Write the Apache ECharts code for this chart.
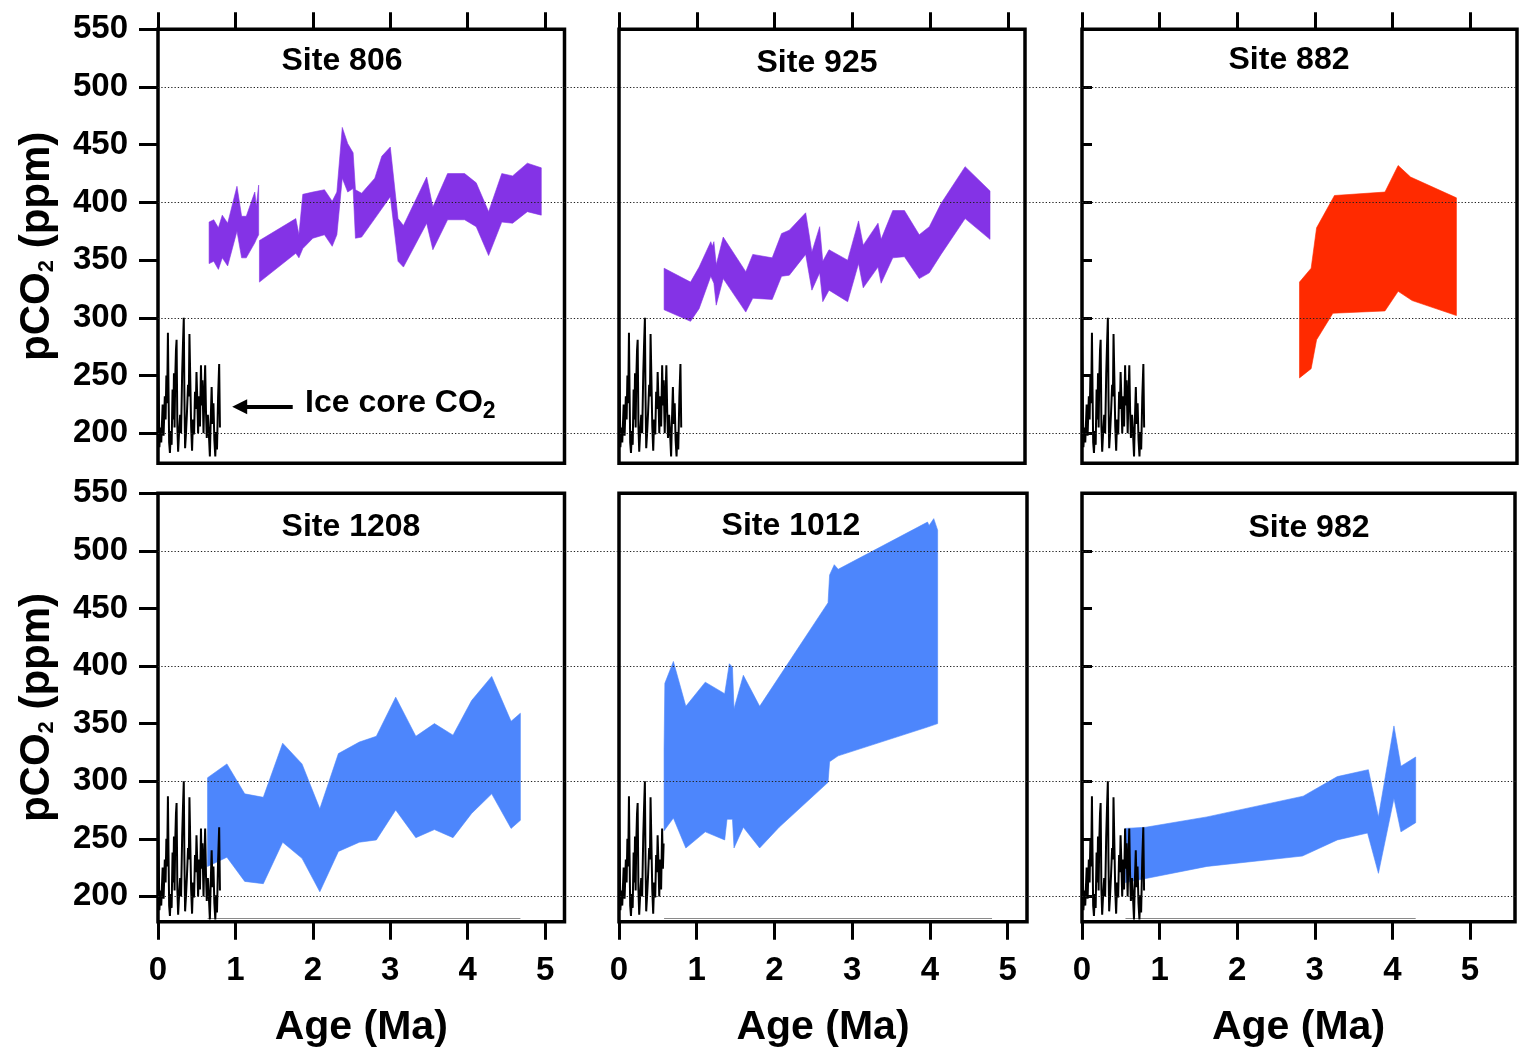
<!DOCTYPE html>
<html>
<head>
<meta charset="utf-8">
<script src="https://cdn.jsdelivr.net/npm/echarts@6/dist/echarts.min.js"></script>
<style>
html,body{margin:0;padding:0;background:#fff;}
#c{width:1529px;height:1055px;}
</style>
</head>
<body>
<div id="c"></div>
<script>
// ---------------- DATA ----------------
const ageTicks = [0, 1, 2, 3, 4, 5];
const ppmTicks = [200, 250, 300, 350, 400, 450, 500, 550];
const ppmGridLines = [200, 300, 400, 500];
const siteNames = ['Site 806', 'Site 925', 'Site 882', 'Site 1208', 'Site 1012', 'Site 982'];

// Ice core CO2 [age Ma, ppm]
const iceCoreCO2 = [[0.000,278],[0.008,240],[0.018,188],[0.030,205],[0.042,192],[0.060,225],[0.072,198],[0.088,232],[0.098,212],[0.108,250],[0.118,226],[0.128,287],[0.136,236],[0.144,192],[0.154,183],[0.166,202],[0.176,190],[0.188,238],[0.198,212],[0.206,252],[0.214,205],[0.222,246],[0.232,272],[0.240,281],[0.250,206],[0.260,184],[0.272,201],[0.286,216],[0.298,200],[0.312,252],[0.322,276],[0.333,300],[0.341,232],[0.350,187],[0.362,201],[0.374,218],[0.388,242],[0.398,232],[0.406,286],[0.416,250],[0.428,206],[0.440,185],[0.452,212],[0.466,199],[0.478,236],[0.488,221],[0.497,253],[0.508,228],[0.518,200],[0.530,232],[0.542,206],[0.555,259],[0.565,224],[0.574,246],[0.588,200],[0.598,232],[0.609,259],[0.620,218],[0.630,196],[0.644,216],[0.658,198],[0.670,180],[0.681,212],[0.693,240],[0.704,208],[0.716,226],[0.728,194],[0.740,180],[0.751,201],[0.762,186],[0.776,231],[0.790,260],[0.800,205]];
const iceCoreCutSite1012 = 0.58;

// Site 806 (two pieces)
const site806UpperA = [[0.66,383],[0.72,385],[0.78,378],[0.83,389],[0.90,382],[1.02,414],[1.08,388],[1.14,388],[1.25,409],[1.27,397],[1.30,415]];
const site806LowerA = [[0.66,347],[0.72,349],[0.78,342],[0.83,352],[0.90,345],[1.02,375],[1.08,352],[1.14,352],[1.25,365],[1.27,368],[1.30,372]];
const site806UpperB = [[1.31,367],[1.78,386],[1.82,372],[1.87,407],[2.00,409],[2.15,411],[2.25,401],[2.31,409],[2.38,465],[2.45,451],[2.52,443],[2.55,411],[2.63,408],[2.80,421],[2.89,440],[3.00,448],[3.10,386],[3.17,380],[3.47,422],[3.55,396],[3.74,425],[3.96,425],[4.11,417],[4.27,392],[4.44,425],[4.58,423],[4.77,434],[4.95,430]];
const site806LowerB = [[1.31,331],[1.78,356],[1.82,352],[1.87,360],[2.00,369],[2.15,372],[2.25,362],[2.31,372],[2.38,421],[2.45,409],[2.52,412],[2.55,369],[2.63,370],[2.80,386],[3.00,405],[3.10,349],[3.17,344],[3.47,382],[3.55,359],[3.74,385],[3.96,385],[4.11,379],[4.27,354],[4.44,383],[4.58,382],[4.77,392],[4.95,389]];

// Site 925
const site925Upper = [[0.58,343],[0.92,331],[1.03,344],[1.18,366],[1.20,362],[1.22,366],[1.25,346],[1.34,370],[1.63,340],[1.72,355],[1.97,352],[2.09,373],[2.19,376],[2.40,391],[2.48,357],[2.58,379],[2.62,349],[2.70,359],[2.94,350],[3.08,384],[3.14,363],[3.33,382],[3.37,368],[3.52,393],[3.67,393],[3.86,372],[3.99,379],[4.14,399],[4.45,431],[4.77,410]];
const site925Lower = [[0.58,307],[0.92,297],[1.03,308],[1.18,336],[1.22,330],[1.25,311],[1.34,334],[1.63,305],[1.72,317],[1.97,316],[2.09,336],[2.19,337],[2.40,355],[2.48,324],[2.58,339],[2.62,314],[2.70,324],[2.94,314],[3.08,347],[3.14,326],[3.33,344],[3.37,330],[3.52,352],[3.67,353],[3.86,334],[3.99,339],[4.14,355],[4.45,386],[4.77,368]];

// Site 882
const site882Upper = [[2.80,331],[2.95,343],[3.02,378],[3.25,406],[3.90,409],[4.07,432],[4.23,422],[4.82,404]];
const site882Lower = [[2.80,248],[2.95,256],[3.02,281],[3.23,304],[3.90,306],[4.07,323],[4.25,315],[4.82,302]];

// Site 1208
const site1208Upper = [[0.64,303],[0.89,315],[1.12,289],[1.36,286],[1.61,333],[1.86,315],[2.09,276],[2.33,324],[2.60,334],[2.82,339],[3.07,373],[3.33,339],[3.57,350],[3.81,340],[4.05,370],[4.31,391],[4.56,352],[4.68,359]];
const site1208Lower = [[0.64,226],[0.89,234],[1.12,213],[1.36,211],[1.61,247],[1.86,233],[2.09,204],[2.33,239],[2.60,247],[2.82,249],[3.07,275],[3.33,251],[3.57,258],[3.81,251],[4.05,272],[4.31,289],[4.56,259],[4.68,266]];

// Site 1012
const site1012Upper = [[0.58,328],[0.59,385],[0.70,404],[0.86,365],[1.11,386],[1.36,376],[1.39,389],[1.42,402],[1.46,399],[1.48,363],[1.60,392],[1.81,365],[2.69,455],[2.71,479],[2.77,488],[2.82,484],[3.97,525],[3.99,522],[4.05,528],[4.10,518]];
const site1012Lower = [[0.58,257],[0.70,268],[0.86,242],[1.11,256],[1.36,249],[1.39,267],[1.46,267],[1.48,242],[1.60,260],[1.81,242],[2.06,260],[2.69,299],[2.71,317],[2.82,322],[3.97,347],[4.10,350]];

// Site 982
const site982Upper = [[0.56,259],[0.82,260],[1.61,269],[2.85,287],[3.29,304],[3.69,310],[3.82,269],[4.02,348],[4.11,313],[4.30,321]];
const site982Lower = [[0.56,212],[1.61,226],[2.84,235],[3.29,249],[3.68,255],[3.82,220],[4.02,285],[4.11,256],[4.30,264]];

// thin fill-baseline traces along the bottom of the lower panels
const baseline1208 = [[0.64,180.8],[4.68,180.8]];
const baseline1012 = [[0.58,180.8],[4.80,180.8]];
const baseline982 = [[0.56,180.8],[4.30,180.8]];

// annotation arrow (age, ppm)
const arrowFrom = [1.74, 223];
const arrowTo = [1.055, 223];

// ---------------- LAYOUT / STYLE ----------------
const FONT = '"Liberation Sans", Arial, Helvetica, sans-serif';
const PURPLE = '#8433E6';
const RED = '#FF2A00';
const BLUE = '#4D86FC';

const panels = [
  {left:158,  top:29.3,  width:406.5, height:434,   xmax:5.25, ymin:174, row:0, col:0},
  {left:619,  top:29.3,  width:406,   height:434,   xmax:5.22, ymin:174, row:0, col:1},
  {left:1082, top:29.3,  width:435,   height:434,   xmax:5.60, ymin:174, row:0, col:2},
  {left:158,  top:493.3, width:406.5, height:428.4, xmax:5.25, ymin:178, row:1, col:0},
  {left:619,  top:493.3, width:408,   height:428.4, xmax:5.25, ymin:178, row:1, col:1},
  {left:1082, top:493.3, width:433,   height:428.4, xmax:5.58, ymin:178, row:1, col:2}
];
const titlePos = [[342,61],[817,63],[1289,60],[351,527],[791,526],[1309,528]];

const bands = [
  [[site806UpperA, site806LowerA, PURPLE], [site806UpperB, site806LowerB, PURPLE]],
  [[site925Upper, site925Lower, PURPLE]],
  [[site882Upper, site882Lower, RED]],
  [[site1208Upper, site1208Lower, BLUE]],
  [[site1012Upper, site1012Lower, BLUE]],
  [[site982Upper, site982Lower, BLUE]]
];
const baselines = [null, null, null, baseline1208, baseline1012, baseline982];

const grids = [], xAxes = [], yAxes = [], series = [], graphics = [];

panels.forEach((p, i) => {
  grids.push({left:p.left, top:p.top, width:p.width, height:p.height, show:true,
    borderColor:'#000', borderWidth:3.5, backgroundColor:'rgba(0,0,0,0)'});
  xAxes.push({
    gridIndex:i, type:'value', min:0, max:p.xmax,
    position: p.row === 0 ? 'top' : 'bottom',
    axisLine:{show:false},
    axisTick:{show:true, inside:false, length: p.row === 0 ? 17 : 18, customValues: ageTicks,
      lineStyle:{color:'#000', width:3}},
    axisLabel:{show: p.row === 1, customValues: ageTicks, margin:33, fontSize:33, fontWeight:'bold',
      fontFamily:FONT, color:'#000'},
    splitLine:{show:false},
    name: p.row === 1 ? 'Age (Ma)' : '',
    nameLocation:'middle', nameGap:85,
    nameTextStyle:{fontSize:41, fontWeight:'bold', fontFamily:FONT, color:'#000'}
  });
  const yShowTicks = p.col !== 1;
  yAxes.push({
    gridIndex:i, type:'value', min:p.ymin, max:550,
    position: p.col === 2 ? 'right' : 'left',
    axisLine:{show:false},
    axisTick:{show:yShowTicks, inside:false, length: p.col === 2 ? 10 : 19, customValues: ppmTicks,
      lineStyle:{color:'#000', width:3}},
    axisLabel:{show: p.col === 0, customValues: ppmTicks, margin:30, fontSize:33, fontWeight:'bold',
      fontFamily:FONT, color:'#000'},
    splitLine:{show:false},
    name: p.col === 0 ? '{a|pCO}{s|2}{a| (ppm)}' : '',
    nameLocation:'middle', nameRotate:90, nameGap:100,
    nameTextStyle:{rich:{
      a:{fontSize:42, fontWeight:'bold', fontFamily:FONT, color:'#000', lineHeight:42},
      s:{fontSize:22, fontWeight:'bold', fontFamily:FONT, color:'#000', lineHeight:18, verticalAlign:'bottom'}
    }}
  });

  // bands
  bands[i].forEach(b => {
    const upper = b[0], lower = b[1], color = b[2];
    series.push({
      type:'custom', xAxisIndex:i, yAxisIndex:i, silent:true, animation:false, z:2,
      data:[upper[0]],
      renderItem:function (params, api) {
        const pts = [];
        upper.forEach(pt => pts.push(api.coord(pt)));
        for (let k = lower.length - 1; k >= 0; k--) pts.push(api.coord(lower[k]));
        return {type:'polygon', shape:{points:pts}, style:{fill:color, stroke:color, lineWidth:0.6}};
      }
    });
  });

  // baseline traces
  if (baselines[i]) {
    series.push({type:'line', xAxisIndex:i, yAxisIndex:i, data:baselines[i], showSymbol:false,
      silent:true, animation:false, z:3, lineStyle:{color:'#8a8a8a', width:1.2}});
  }

  // ice core
  const ice = (i === 4) ? iceCoreCO2.filter(d => d[0] <= iceCoreCutSite1012) : iceCoreCO2;
  series.push({type:'line', xAxisIndex:i, yAxisIndex:i, data:ice, showSymbol:false, silent:true,
    animation:false, z:4, lineStyle:{color:'#000', width:2}});

  graphics.push({type:'text', x:titlePos[i][0], y:titlePos[i][1], silent:true,
    style:{text:siteNames[i], font:'bold 32px ' + FONT, fill:'#000', textAlign:'center', textVerticalAlign:'middle'}});
});

// background grids for the dotted gridlines spanning each row
[0, 1].forEach(r => {
  const p = panels[r * 3];
  const gi = grids.length;
  grids.push({left:158, top:p.top, width:1359, height:p.height, show:false});
  xAxes.push({gridIndex:gi, type:'value', min:0, max:1, show:false});
  yAxes.push({gridIndex:gi, type:'value', min:p.ymin, max:550, show:false});
  series.push({type:'line', xAxisIndex:gi, yAxisIndex:gi, data:[], silent:true, animation:false, z:5,
    markLine:{silent:true, animation:false, symbol:['none','none'], label:{show:false},
      lineStyle:{type:[1.3,2], color:'#222', width:1.2},
      data: ppmGridLines.map(v => ({yAxis:v}))}});
});

// arrow annotation in Site 806 panel
series.push({type:'line', xAxisIndex:0, yAxisIndex:0, data:[], silent:true, animation:false, z:6,
  markLine:{silent:true, animation:false, symbol:['none','triangle'], symbolSize:15, label:{show:false},
    lineStyle:{type:'solid', color:'#000', width:4},
    data:[[{coord:arrowFrom},{coord:arrowTo}]]}});

graphics.push({type:'text', x:305, y:403, silent:true,
  style:{text:'{a|Ice core CO}{s|2}', textAlign:'left', textVerticalAlign:'middle',
    rich:{a:{font:'bold 32px ' + FONT, fill:'#000', lineHeight:40},
          s:{font:'bold 23px ' + FONT, fill:'#000', lineHeight:14, verticalAlign:'bottom'}}}});

const chart = echarts.init(document.getElementById('c'), null, {renderer:'canvas', width:1529, height:1055});
chart.setOption({
  animation:false,
  backgroundColor:'#fff',
  grid:grids, xAxis:xAxes, yAxis:yAxes, series:series, graphic:graphics
});
</script>
</body>
</html>
